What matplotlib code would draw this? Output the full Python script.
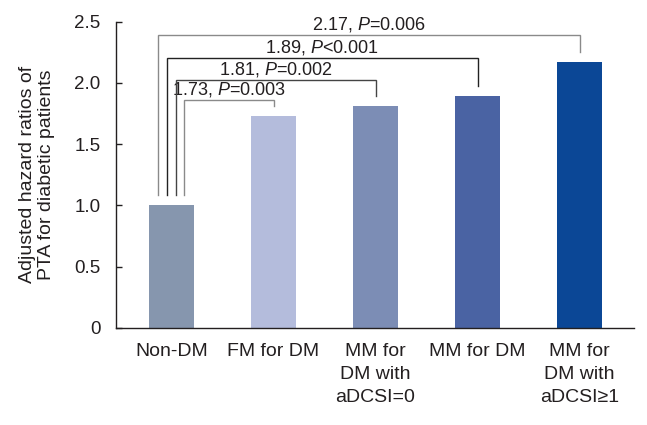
import matplotlib
matplotlib.use("Agg")
import matplotlib.pyplot as plt
from matplotlib import font_manager

# data
categories = ["Non-DM", "FM for DM", "MM for\nDM with\naDCSI=0", "MM for DM", "MM for\nDM with\naDCSI\u22651"]
hazard_ratios = [1.00, 1.73, 1.81, 1.89, 2.17]
compare_to = [1, 2, 3, 4]          # each compared against Non-DM (index 0)
p_texts = ["=0.003", "=0.002", "<0.001", "=0.006"]
bar_colors = ["#8696ae", "#b4bcdc", "#7c8db5", "#4a63a3", "#0b4796"]

# bracket styling (layout only)
left_offsets = [0.12, 0.04, -0.045, -0.13]
bracket_tops = [1.861, 2.024, 2.204, 2.39]
bracket_colors = ["#8a8a8a", "#444444", "#222222", "#8a8a8a"]
TXT = "#231f20"


def have(name):
    try:
        font_manager.findfont(name, fallback_to_default=False)
        return True
    except Exception:
        return False


base = "Liberation Sans"
narrow = "Liberation Sans Narrow" if have("Liberation Sans Narrow") else base
plt.rcParams["font.family"] = [base, "DejaVu Sans"]
plt.rcParams["mathtext.fontset"] = "custom"
plt.rcParams["mathtext.rm"] = narrow
plt.rcParams["mathtext.it"] = narrow + ":italic"

fig = plt.figure(figsize=(6.47, 4.25), dpi=100)
ax = fig.add_axes([116 / 647, 1 - 328 / 425, 518 / 647, (328 - 21.7) / 425])

x = list(range(len(categories)))
ax.bar(x, hazard_ratios, width=0.44, color=bar_colors, zorder=2)

ax.set_xlim(-0.544, 4.534)
ax.set_ylim(0, 2.5)
ax.set_yticks([0, 0.5, 1.0, 1.5, 2.0, 2.5])
ax.set_yticklabels(["0", "0.5", "1.0", "1.5", "2.0", "2.5"])
ax.set_xticks(x)
ax.set_xticklabels(categories, linespacing=1.45)
for sp in ("top", "right"):
    ax.spines[sp].set_visible(False)
for sp in ("left", "bottom"):
    ax.spines[sp].set_color("#231f20")
    ax.spines[sp].set_linewidth(1.0)
ax.tick_params(axis="x", length=0, pad=11, labelsize=14, labelcolor=TXT)
ax.tick_params(axis="y", direction="in", length=4.5, width=1.0, pad=11,
               labelsize=13.5, labelcolor=TXT, color="#231f20")

ax.set_ylabel("Adjusted hazard ratios of\nPTA for diabetic patients",
              fontsize=14, color=TXT, va="center", linespacing=1.2)
ax.yaxis.set_label_coords(-0.1525, 0.5)

for i, t in enumerate(compare_to):
    xl = x[0] + left_offsets[i]
    xr = x[t]
    top = bracket_tops[i]
    yl = hazard_ratios[0] + 0.086
    yr = hazard_ratios[t] + 0.085
    ax.plot([xl, xl, xr, xr], [yl, top, top, yr], color=bracket_colors[i],
            lw=1.0, solid_joinstyle="miter", zorder=3)
    label = f"{hazard_ratios[t]:.2f}, $P${p_texts[i]}"
    ax.text((xl + xr) / 2, top + 0.085, label, ha="center", va="center",
            fontsize=13, color=TXT, family=[narrow, "DejaVu Sans"])

fig.savefig("out.png", dpi=100)
